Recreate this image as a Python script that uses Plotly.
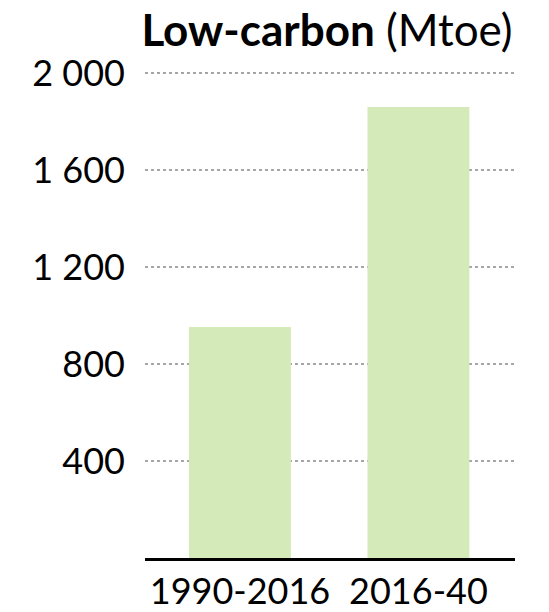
import plotly.graph_objects as go

categories = ["1990-2016", "2016-40"]
values = [952, 1860]
tick_vals = [400, 800, 1200, 1600, 2000]
tick_text = ["400", "800", "1 200", "1 600", "2 000"]

FONT = "Lato"

fig = go.Figure()
fig.add_trace(go.Bar(
    x=categories, y=values,
    marker=dict(color="#d4eab8", line=dict(width=0)),
    width=0.571,
))

fig.update_layout(
    width=549, height=612,
    margin=dict(l=145, r=34, t=71, b=54),
    paper_bgcolor="white", plot_bgcolor="white",
    showlegend=False,
    font=dict(family=FONT, color="black", size=34),
    title=dict(
        text="<b>Low-carbon</b> (Mtoe)",
        x=(133 + 521) / 2 / 549, xref="container", xanchor="center",
        y=1 - 31 / 612, yref="container", yanchor="middle",
        font=dict(family=FONT, size=44, color="black"),
    ),
    xaxis=dict(
        range=[-0.532, 1.541],
        showline=True, linecolor="black", linewidth=3,
        showgrid=False, ticks="",
        tickfont=dict(size=36),
        automargin=False,
        ticklabelstandoff=0,
    ),
    yaxis=dict(
        range=[0, 2008],
        tickvals=tick_vals, ticktext=tick_text,
        showgrid=True, gridcolor="#a6a6a6", gridwidth=2, griddash="dot",
        zeroline=False, showline=False, ticks="",
        ticklabelstandoff=19,
        tickfont=dict(size=36),
        automargin=False,
    ),
)

fig.write_html(
    "out.html",
    config={"displayModeBar": False},
    post_script="document.body.style.margin='0';document.body.style.overflow='hidden';",
)
